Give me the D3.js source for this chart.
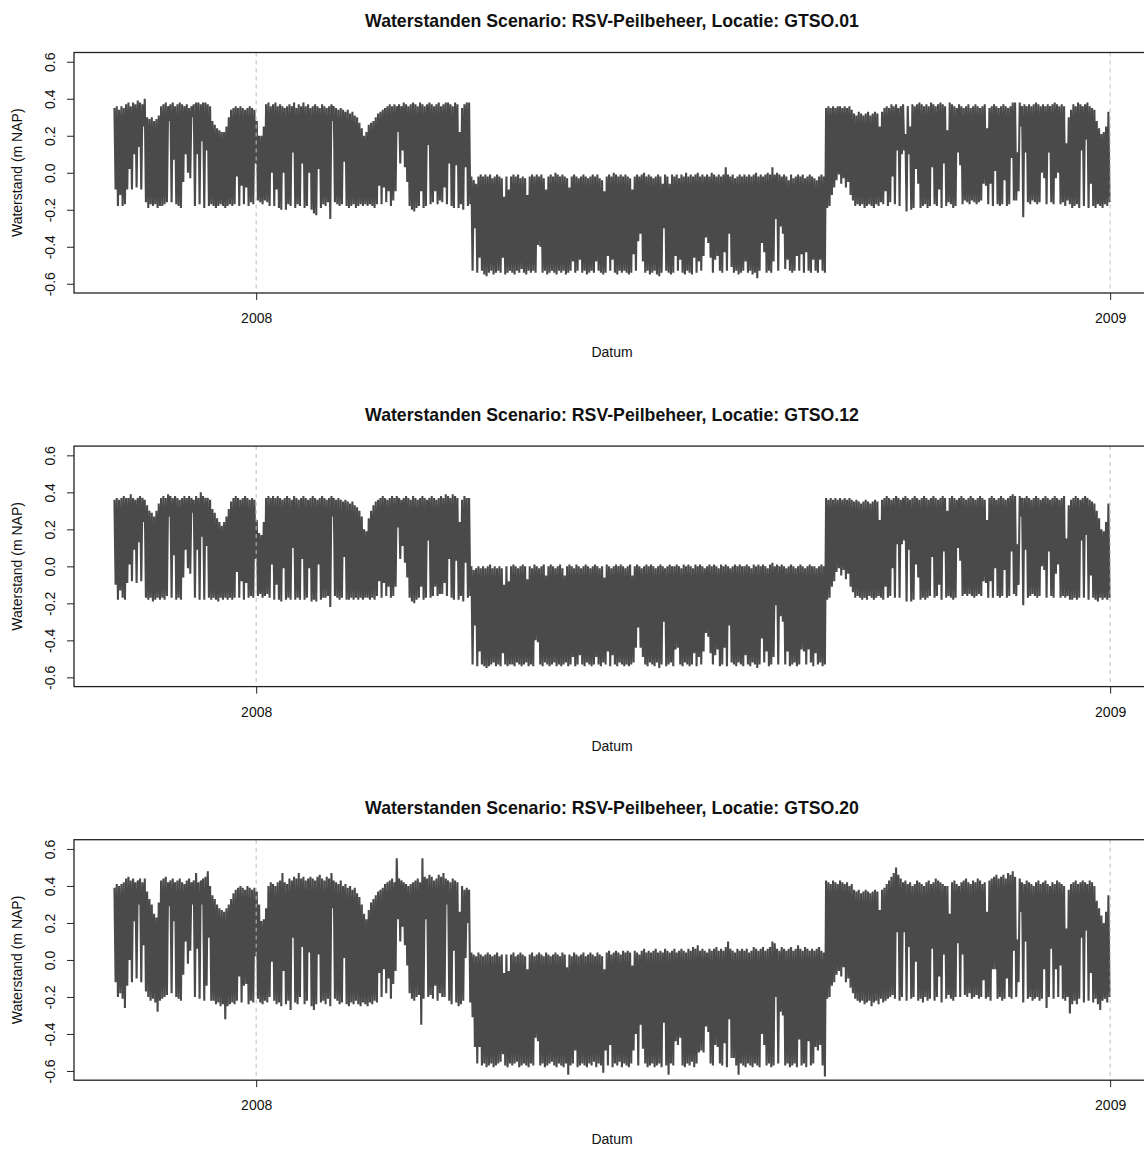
<!DOCTYPE html>
<html>
<head>
<meta charset="utf-8">
<script src="https://cdn.jsdelivr.net/npm/d3@7"></script>
<style>
  html, body { margin: 0; padding: 0; background: #fff; }
  svg { display: block; }
</style>
</head>
<body>
<div id="chart"></div>
<script>
// Daily water levels (cm NAP), one entry per day starting 1 Nov 2007:
// hi = daily maximum, lo = daily minimum.
const startDate = "2007-11-01";
const scenario = "RSV-Peilbeheer";
const locations = ["GTSO.01", "GTSO.12", "GTSO.20"];
const yTicks = [-0.6, -0.4, -0.2, 0.0, 0.2, 0.4, 0.6];
const yearTicks = ["2008-01-01", "2009-01-01"];

const hiGTSO01 = [
35,36,34,36,35,37,38,36,38,37,
39,38,37,40,30,29,30,28,29,31,
36,37,38,36,37,38,36,37,38,37,
36,37,35,36,37,38,38,37,38,38,
37,36,28,26,24,23,22,22,25,30,
34,35,36,35,36,35,34,35,36,35,
34,28,20,20,25,37,38,36,37,38,
36,37,36,35,36,37,36,38,35,37,
36,38,36,37,35,36,37,36,35,37,
36,35,36,37,36,35,34,35,34,33,
34,32,33,31,30,27,24,20,22,26,
27,28,30,32,33,34,35,36,37,36,
37,36,37,36,38,37,36,37,38,37,
36,38,37,36,37,38,37,36,37,38,
36,37,38,38,37,36,38,37,22,35,
37,38,38,-2,-4,-6,-2,-1,-2,-1,
-2,-1,-3,-2,-1,-2,-3,-13,-2,-9,
-2,-1,-2,-1,-3,-2,-3,-12,-2,-1,
-2,-1,-2,-1,-3,-9,-2,-1,-2,0,
-1,-2,-1,-2,-3,-8,-2,-1,-2,-3,
-2,-1,-2,-3,-2,-1,-2,-1,-3,-4,
-10,-2,-1,-2,0,-1,-2,-1,-2,-1,
-2,-3,-9,-2,-1,-2,-1,0,-2,-1,
-2,-3,-2,-1,-2,-6,-1,-2,-6,-1,
-2,-1,-3,-1,-2,0,-2,-1,-2,-1,
0,-2,-1,-2,-1,-2,0,-1,-2,-1,
-2,-1,3,-1,-2,-1,-3,-2,-1,-2,
-1,-2,-1,-2,-1,0,-2,-1,-2,-1,
0,-1,3,-1,0,-1,-2,-1,-2,-4,
-1,-3,-2,-1,-2,-1,-3,-2,-1,-2,
-3,-4,-2,-1,-2,35,36,35,36,35,
36,36,35,36,35,36,34,32,31,33,
32,31,32,33,31,32,33,32,25,33,
35,36,35,37,36,37,35,36,37,21,
36,25,37,36,37,38,37,36,37,36,
38,37,36,37,38,37,36,23,38,37,
36,35,37,36,35,36,37,35,36,37,
36,35,36,37,24,35,36,37,36,35,
36,37,36,35,36,38,38,11,38,36,
37,36,37,36,37,38,37,36,37,36,
37,36,37,38,37,36,37,36,16,30,
34,37,36,38,37,36,37,38,36,35,
34,28,24,21,22,25,33
];
const loGTSO01 = [
-9,-18,-12,-18,-17,-9,2,-9,10,-8,
14,-9,25,-16,-19,-17,-18,-17,-19,-18,
-18,-17,-16,28,-16,7,-17,-18,-19,-5,
10,0,-3,30,-18,10,-17,17,-19,12,
-18,-17,-18,-19,-18,-17,-18,-19,-18,-17,
-18,-17,-2,-18,-7,-17,-8,-18,-16,-17,
5,-15,-16,-17,-15,-16,-18,0,-18,-9,
-19,-20,0,-20,-17,-18,11,-19,-17,-18,
5,-19,-18,0,-20,-22,-23,2,-19,-17,
-18,-16,-25,28,-16,-17,-18,-17,6,-18,
-19,-18,-17,-19,-18,-17,-18,-17,-18,-17,
-18,-19,-17,-7,-17,-8,-16,-10,-18,-15,
-10,22,5,12,3,-5,-18,-20,-21,-19,
-18,-10,-19,-18,15,-17,-16,-10,-17,-15,
-16,-8,-17,5,-18,-19,4,-19,-17,-20,
3,-18,-17,-53,-30,-54,-46,-53,-55,-56,
-54,-53,-55,-54,-53,-54,-46,-55,-54,-53,
-54,-55,-53,-54,-52,-54,-55,-53,-54,-53,
-54,-39,-40,-54,-53,-55,-54,-53,-54,-55,
-53,-54,-53,-55,-54,-53,-48,-54,-53,-47,
-54,-53,-55,-54,-53,-54,-48,-53,-54,-55,
-54,-45,-53,-47,-54,-55,-53,-54,-53,-54,
-55,-54,-44,-53,-37,-33,-48,-54,-53,-55,
-54,-53,-55,-56,-54,-30,-53,-54,-55,-54,
-45,-53,-47,-54,-55,-53,-54,-55,-46,-54,
-48,-53,-45,-35,-38,-46,-54,-47,-45,-53,
-54,-43,-53,-33,-51,-54,-53,-55,-54,-53,
-48,-54,-53,-55,-54,-57,-53,-38,-43,-54,
-53,-54,-48,-25,-53,-29,-33,-52,-47,-53,
-54,-53,-45,-53,-44,-54,-43,-53,-54,-47,
-53,-54,-47,-53,-54,-19,-18,-12,-8,-4,
-1,-6,-3,-8,-5,-12,-15,-18,-17,-18,
-17,-19,-18,-17,-18,-19,-17,-18,-16,-17,
-10,-18,-16,-2,-17,12,-18,10,12,-21,
10,-20,-19,2,-6,-19,-18,-17,-19,-18,
3,-17,-18,-9,-19,5,-18,-16,-17,-19,
-18,11,4,-17,-15,-16,-17,-15,-16,-17,
-16,-15,-6,-7,-17,-6,-18,1,-17,-18,
-17,-4,-18,-17,8,-15,-15,-10,25,-24,
11,-16,-17,-15,-16,-17,-16,0,-3,-17,
11,-16,-17,-3,0,-17,-16,-18,-15,-17,
-19,-18,-17,-19,12,-18,18,-19,-6,-18,
-19,-17,-18,-19,-17,-18,-16
];

const hiGTSO12 = [
36,37,36,37,38,37,37,39,37,36,
37,38,37,36,33,30,29,27,30,34,
37,38,37,39,38,37,38,37,36,37,
38,37,38,37,36,38,37,40,38,37,
37,36,31,29,26,24,22,24,27,31,
35,37,38,37,36,37,38,37,36,37,
36,25,18,17,24,37,38,37,38,37,
38,37,36,37,38,37,36,38,37,36,
37,38,37,36,37,38,37,36,37,38,
37,36,37,38,37,36,37,36,35,36,
35,34,35,33,32,30,27,20,19,26,
30,33,35,36,37,38,37,36,37,38,
37,38,37,36,37,38,37,36,38,37,
36,37,38,37,36,37,38,37,36,37,
38,37,39,38,37,39,38,37,24,36,
38,37,37,0,-2,-1,0,-1,0,-1,
0,1,-1,0,-1,0,-1,-10,0,-8,
0,1,0,-1,0,1,0,-7,0,-1,
1,0,-1,0,1,-5,0,1,0,-1,
0,1,-1,-5,0,1,0,-1,1,0,
-1,0,1,0,-1,0,1,0,-1,0,
-6,1,0,-1,0,1,0,1,0,-1,
0,1,-5,0,1,0,-1,0,1,0,
1,0,-1,0,1,0,-1,0,1,0,
0,1,0,-1,1,0,1,0,-1,1,
0,1,0,-1,0,1,0,1,0,-1,
1,0,1,0,-1,0,1,0,1,0,
0,1,0,-1,1,0,1,0,1,0,
-1,1,2,0,1,0,1,0,-1,0,
1,0,-1,0,1,0,-1,0,1,0,
0,-1,0,1,0,37,36,37,36,37,
36,37,36,37,36,37,36,35,36,35,
34,35,36,35,34,35,36,35,25,36,
37,38,37,36,37,38,37,36,37,38,
37,36,37,38,37,36,37,38,37,36,
37,38,37,36,37,38,37,30,37,38,
37,36,37,38,37,36,37,38,37,36,
37,38,37,36,25,37,38,37,36,37,
38,37,36,37,38,39,38,12,38,37,
37,38,37,36,37,38,37,36,37,38,
37,36,37,38,37,36,37,38,15,33,
36,37,38,37,36,37,38,37,36,35,
34,30,26,20,19,24,34
];
const loGTSO12 = [
-10,-18,-13,-17,-18,-9,1,-8,9,-9,
13,-8,24,-17,-18,-17,-19,-18,-17,-18,
-17,-18,-16,27,-17,6,-18,-17,-18,-6,
9,-1,-4,29,-17,9,-18,16,-18,11,
-17,-18,-17,-18,-19,-17,-18,-17,-18,-17,
-18,-17,-3,-17,-8,-18,-9,-17,-16,-17,
4,-16,-15,-17,-16,-15,-17,1,-18,-10,
-18,-19,-1,-18,-17,-18,10,-18,-17,-18,
4,-18,-17,-1,-19,-18,-19,1,-18,-17,
-17,-16,-22,27,-16,-17,-18,-17,5,-18,
-18,-17,-18,-17,-18,-17,-18,-17,-17,-18,
-17,-18,-16,-8,-17,-9,-16,-11,-17,-16,
-11,21,4,11,2,-6,-17,-19,-20,-18,
-17,-11,-18,-17,14,-17,-16,-11,-16,-15,
-15,-9,-16,4,-17,-18,3,-18,-16,-19,
2,-17,-16,-53,-32,-54,-46,-53,-54,-55,
-54,-53,-52,-54,-53,-54,-47,-53,-54,-53,
-53,-54,-52,-53,-54,-53,-52,-54,-53,-54,
-40,-41,-53,-54,-52,-53,-54,-53,-52,-54,
-53,-54,-53,-52,-54,-53,-49,-54,-53,-48,
-53,-54,-52,-53,-54,-53,-49,-53,-54,-52,
-53,-46,-54,-48,-53,-54,-52,-53,-54,-53,
-54,-53,-52,-44,-33,-44,-49,-53,-54,-52,
-53,-54,-52,-55,-53,-30,-54,-53,-52,-54,
-45,-44,-53,-54,-52,-53,-54,-53,-47,-54,
-49,-53,-46,-36,-38,-47,-53,-48,-45,-54,
-53,-44,-54,-32,-52,-53,-54,-52,-53,-54,
-48,-53,-54,-52,-53,-55,-53,-39,-52,-46,
-54,-53,-49,-21,-53,-27,-30,-53,-46,-54,
-53,-52,-54,-53,-45,-46,-53,-45,-52,-54,
-47,-53,-52,-54,-53,-18,-17,-11,-8,-3,
-1,-5,-2,-7,-4,-11,-14,-17,-16,-17,
-18,-17,-18,-16,-17,-18,-17,-16,-17,-18,
-11,-17,-16,-1,-17,12,-17,12,14,-19,
9,-19,-18,1,-6,-18,-17,-18,-17,-16,
5,-17,-16,-10,-18,8,-17,-16,-17,-18,
-17,10,3,-16,-15,-16,-15,-16,-17,-16,
-15,-16,-8,-9,-17,-8,-17,-1,-16,-17,
-16,-2,-17,-16,8,-15,-16,-10,27,-21,
9,-17,-16,-15,-16,-17,-16,0,-2,-17,
8,-16,-17,-4,1,-17,-16,-17,-16,-18,
-18,-17,-18,-17,14,-17,17,-18,-5,-17,
-18,-19,-17,-18,-17,-18,-17
];

const hiGTSO20 = [
39,41,40,41,42,44,45,43,44,42,
43,44,42,44,37,33,30,25,23,31,
43,44,45,42,43,44,42,43,44,42,
41,43,44,42,43,47,42,43,44,45,
48,40,35,33,30,28,27,26,28,30,
33,36,38,39,40,39,38,40,39,38,
39,37,30,21,22,28,40,42,41,40,
42,43,47,42,41,44,43,45,44,47,
44,45,43,44,45,44,43,45,46,44,
43,45,44,47,43,42,41,43,40,41,
39,40,38,39,36,34,30,25,22,27,
31,33,35,37,38,39,41,42,43,44,
42,55,44,43,42,41,40,41,42,43,
44,42,55,45,44,46,45,43,44,46,
45,47,44,43,42,44,43,42,26,40,
38,39,38,4,3,2,4,3,2,3,
4,3,2,3,4,2,3,-7,3,-6,
3,4,2,3,4,3,2,-5,3,4,
2,3,4,3,2,4,3,2,3,4,
3,2,4,3,-4,3,2,4,3,2,
3,4,2,3,4,3,2,4,3,2,
-5,4,5,3,4,5,4,3,5,4,
5,4,-3,5,4,3,5,6,4,5,
4,5,6,4,5,4,6,5,4,5,
6,4,5,6,5,4,6,5,7,6,
8,5,6,5,4,6,5,6,7,5,
6,5,7,10,6,5,4,6,5,6,
5,6,4,5,7,6,5,6,7,5,
6,7,10,9,6,5,7,6,5,6,
7,5,6,8,6,5,7,6,5,6,
5,6,7,5,4,43,42,41,43,42,
41,43,42,41,42,40,41,38,37,38,
36,37,38,37,36,37,38,37,27,38,
39,41,43,45,47,50,46,44,42,43,
41,42,40,41,43,42,41,40,42,43,
41,42,44,43,42,41,40,40,25,42,
43,41,40,42,43,44,42,41,43,42,
44,43,41,42,26,43,44,45,46,44,
45,46,44,47,46,48,45,11,44,42,
41,43,42,41,40,42,43,41,42,43,
41,40,42,41,43,42,41,40,17,38,
41,42,43,41,42,43,42,41,43,42,
40,32,28,24,20,26,35
];
const loGTSO20 = [
-12,-20,-18,-21,-26,-14,0,-12,21,-10,
30,-12,8,-17,-20,-22,-21,-23,-28,-22,
-21,-20,-19,29,-18,21,-20,-21,-22,-8,
10,-2,5,30,-20,6,-21,30,-22,-14,
12,-22,-22,-24,-23,-25,-24,-32,-25,-24,
-23,-24,-22,-9,-23,-14,-13,-24,-22,-23,
2,-21,-23,-24,-22,-23,-20,-1,-22,-24,
-23,-25,-6,-24,-22,-27,12,-23,-24,-20,
7,-24,-22,4,-25,-27,-24,3,-23,-22,
-24,-21,-25,28,-21,-22,-24,-23,1,-24,
-25,-23,-24,-22,-24,-25,-23,-24,-25,-23,
-24,-22,-23,-7,-20,-5,-18,-10,-21,-13,
-6,22,10,18,8,-3,-18,-21,-22,-20,
-19,-35,-21,22,-20,-19,-21,-14,-22,-18,
-20,-20,30,-22,-24,5,-23,-25,-24,-22,
1,20,-23,-31,-47,-56,-47,-57,-56,-58,
-57,-56,-58,-57,-56,-55,-51,-57,-58,-56,
-57,-56,-55,-58,-57,-56,-57,-58,-56,-57,
-42,-44,-57,-56,-58,-57,-56,-55,-57,-58,
-56,-57,-58,-56,-62,-57,-56,-49,-58,-57,
-56,-57,-58,-56,-57,-55,-58,-56,-57,-61,
-49,-57,-46,-58,-56,-57,-55,-58,-56,-57,
-58,-56,-49,-40,-57,-35,-48,-56,-58,-57,
-56,-58,-57,-56,-58,-34,-57,-62,-56,-57,
-44,-46,-42,-57,-58,-56,-57,-55,-58,-56,
-50,-49,-50,-36,-39,-56,-57,-46,-47,-56,
-57,-45,-58,-32,-53,-53,-57,-62,-56,-57,
-58,-56,-57,-58,-56,-57,-58,-40,-46,-57,
-56,-58,-57,-20,-56,-28,-30,-57,-56,-58,
-57,-56,-58,-43,-57,-56,-58,-44,-57,-56,
-47,-49,-46,-57,-63,-21,-20,-14,-12,-8,
-6,-9,-4,-12,-10,-15,-18,-21,-22,-23,
-22,-24,-23,-22,-25,-23,-22,-24,-21,-23,
-22,-21,-20,-19,-21,15,-22,-20,15,-22,
7,-21,-20,-1,-22,-21,-23,-20,-22,-21,
6,-22,-20,-9,-23,3,-21,-19,-21,-22,
-20,9,-20,3,-19,-20,-18,-21,-20,-19,
-21,-20,-11,-21,-20,-22,-5,-5,-21,-20,
-22,-21,-10,-20,-21,5,-20,-12,26,-23,
10,-21,-20,-22,-21,-20,-22,-21,-5,-26,
-20,6,-21,-5,-20,-3,-21,-22,-20,-29,
-24,-22,-24,-21,12,-23,16,-22,-7,-23,
-21,-24,-27,-22,-21,-23,-20
];

const series = [
  { loc: locations[0], hi: hiGTSO01, lo: loGTSO01 },
  { loc: locations[1], hi: hiGTSO12, lo: loGTSO12 },
  { loc: locations[2], hi: hiGTSO20, lo: loGTSO20 }
];

// ---- layout ----
const W = 1144, H = 1149;
const FONT = '"Liberation Sans", Arial, Helvetica, sans-serif';
const plotLeft = 74, plotRight = 1150;   // right edge falls just outside the page
const panelTop0 = 52.5, panelStep = 393.6, panelH = 240.5;
const INK = "#111", LINE = "#4a4a4a";

const svg = d3.select("#chart").append("svg")
  .attr("width", W).attr("height", H)
  .style("font-family", FONT);
svg.append("rect").attr("width", W).attr("height", H).attr("fill", "#fff");

const DAY = 864e5;
const t0 = new Date(startDate + "T00:00:00Z");
const t1 = new Date(+t0 + hiGTSO01.length * DAY);
const pad = (t1 - t0) * 0.04;
const x = d3.scaleUtc()
  .domain([new Date(+t0 - pad), new Date(+t1 + pad)])
  .range([plotLeft, plotRight]);
const yearDates = yearTicks.map(s => new Date(s + "T00:00:00Z"));

series.forEach((s, i) => {
  const top = panelTop0 + i * panelStep;
  const bottom = top + panelH;
  const y = d3.scaleLinear().domain([-0.65, 0.65]).range([bottom, top]);
  const g = svg.append("g");

  const clipId = "plotclip" + i;
  g.append("clipPath").attr("id", clipId)
    .append("rect").attr("x", plotLeft).attr("y", top)
    .attr("width", plotRight - plotLeft).attr("height", panelH);

  // daily high then daily low -> zig-zag water level trace
  const pts = [];
  s.hi.forEach((h, k) => {
    pts.push([new Date(+t0 + (k + 0.25) * DAY), h / 100]);
    pts.push([new Date(+t0 + (k + 0.75) * DAY), s.lo[k] / 100]);
  });
  const line = d3.line().x(d => x(d[0])).y(d => y(d[1]));
  g.append("path")
    .attr("d", line(pts))
    .attr("fill", "none")
    .attr("stroke", LINE)
    .attr("stroke-width", 2.1)
    .attr("stroke-linejoin", "bevel")
    .attr("clip-path", `url(#${clipId})`);

  // year reference lines
  g.selectAll("line.year").data(yearDates).join("line")
    .attr("class", "year")
    .attr("x1", d => x(d)).attr("x2", d => x(d))
    .attr("y1", top).attr("y2", bottom)
    .attr("stroke", "#bdbdbd").attr("stroke-width", 1)
    .attr("stroke-dasharray", "4,4");

  // frame
  g.append("rect")
    .attr("x", plotLeft).attr("y", top)
    .attr("width", plotRight - plotLeft).attr("height", panelH)
    .attr("fill", "none").attr("stroke", "#222").attr("stroke-width", 1.3);

  // y axis
  const ya = g.append("g").attr("transform", `translate(${plotLeft},0)`)
    .call(d3.axisLeft(y).tickValues(yTicks).tickSize(7).tickFormat(d => d.toFixed(1)));
  ya.attr("font-family", null).attr("font-size", null);
  ya.select(".domain").remove();
  ya.selectAll(".tick line").attr("stroke", "#222");
  ya.selectAll(".tick text")
    .attr("x", null).attr("dy", "0.35em")
    .attr("text-anchor", "middle")
    .attr("transform", "translate(-24,0) rotate(-90)")
    .attr("font-size", 14).attr("fill", INK);

  // x axis
  const xa = g.append("g").attr("transform", `translate(0,${bottom})`)
    .call(d3.axisBottom(x).tickValues(yearDates).tickSize(7).tickFormat(d3.utcFormat("%Y")));
  xa.attr("font-family", null).attr("font-size", null);
  xa.select(".domain").remove();
  xa.selectAll(".tick line").attr("stroke", "#222");
  xa.selectAll(".tick text").attr("y", 30).attr("dy", 0)
    .attr("font-size", 14).attr("fill", INK);

  // titles
  const cx = (plotLeft + plotRight) / 2;
  g.append("text")
    .attr("x", cx).attr("y", top - 25.5)
    .attr("text-anchor", "middle")
    .attr("font-weight", "bold").attr("font-size", 17.7).attr("fill", INK)
    .text(`Waterstanden Scenario: ${scenario}, Locatie: ${s.loc}`);
  g.append("text")
    .attr("x", cx).attr("y", bottom + 64)
    .attr("text-anchor", "middle")
    .attr("font-size", 14).attr("fill", INK)
    .text("Datum");
  g.append("text")
    .attr("transform", `translate(22,${(top + bottom) / 2}) rotate(-90)`)
    .attr("text-anchor", "middle")
    .attr("font-size", 14).attr("fill", INK)
    .text("Waterstand (m NAP)");
});
</script>
</body>
</html>
